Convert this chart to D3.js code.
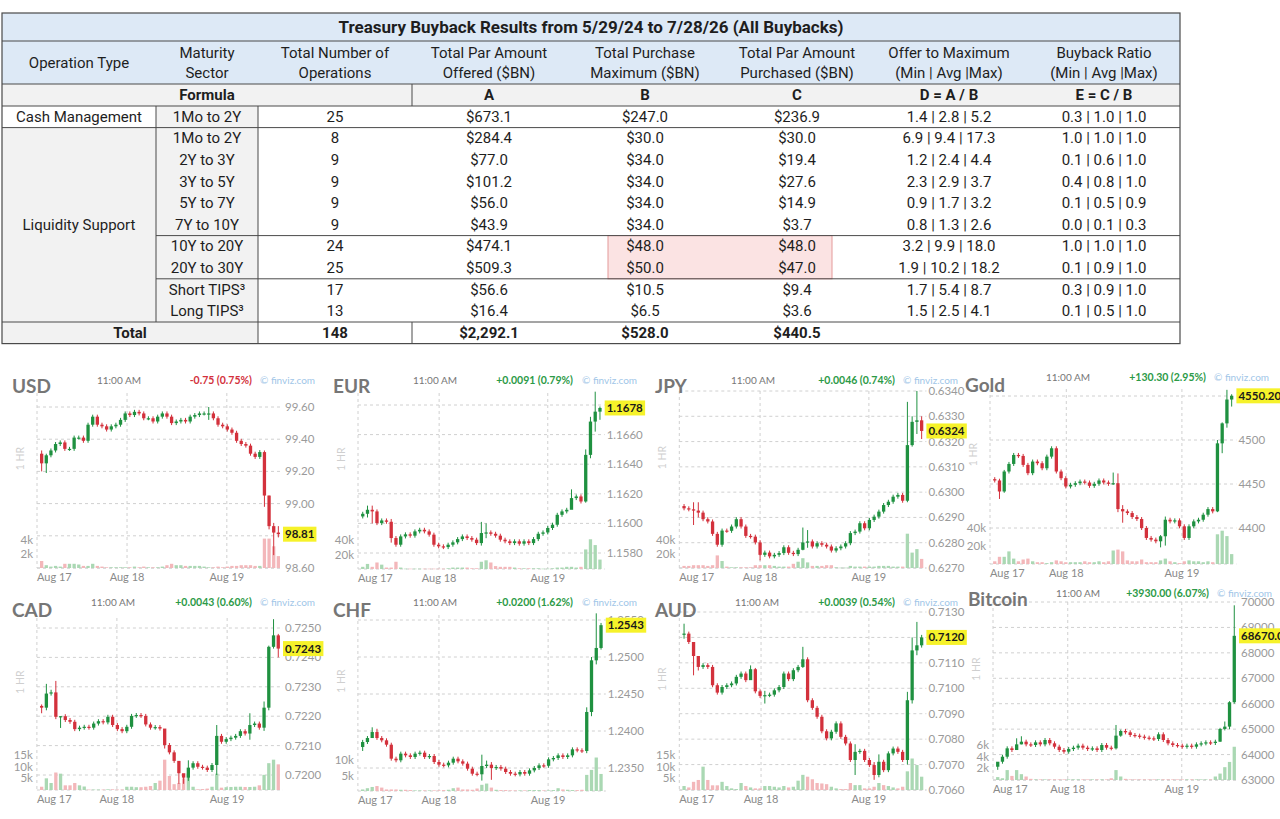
<!DOCTYPE html>
<html>
<head>
<meta charset="utf-8">
<script src="https://cdn.jsdelivr.net/npm/d3@7"></script>
<style>
  body { margin: 0; background: #fff; }
  svg { display: block; }
</style>
</head>
<body>
<script>
// ---------- table data ----------
var tableTitle = "Treasury Buyback Results from 5/29/24 to 7/28/26 (All Buybacks)";
var headers = [["Operation Type"], ["Maturity", "Sector"], ["Total Number of", "Operations"],
  ["Total Par Amount", "Offered ($BN)"], ["Total Purchase", "Maximum ($BN)"],
  ["Total Par Amount", "Purchased ($BN)"], ["Offer to Maximum", "(Min | Avg |Max)"],
  ["Buyback Ratio", "(Min | Avg |Max)"]];
var formulaLabels = ["A", "B", "C", "D = A / B", "E = C / B"];
var opTypes = ["Cash Management", "Liquidity Support"];
var sectors = ["1Mo to 2Y", "1Mo to 2Y", "2Y to 3Y", "3Y to 5Y", "5Y to 7Y", "7Y to 10Y",
  "10Y to 20Y", "20Y to 30Y", "Short TIPS\u00b3", "Long TIPS\u00b3"];
var numOps = [25, 8, 9, 9, 9, 9, 24, 25, 17, 13];
var parOffered = [673.1, 284.4, 77.0, 101.2, 56.0, 43.9, 474.1, 509.3, 56.6, 16.4];
var purchaseMax = [247.0, 30.0, 34.0, 34.0, 34.0, 34.0, 48.0, 50.0, 10.5, 6.5];
var parPurchased = [236.9, 30.0, 19.4, 27.6, 14.9, 3.7, 48.0, 47.0, 9.4, 3.6];
var offerToMax = ["1.4 | 2.8 | 5.2", "6.9 | 9.4 | 17.3", "1.2 | 2.4 | 4.4", "2.3 | 2.9 | 3.7",
  "0.9 | 1.7 | 3.2", "0.8 | 1.3 | 2.6", "3.2 | 9.9 | 18.0", "1.9 | 10.2 | 18.2",
  "1.7 | 5.4 | 8.7", "1.5 | 2.5 | 4.1"];
var buybackRatio = ["0.3 | 1.0 | 1.0", "1.0 | 1.0 | 1.0", "0.1 | 0.6 | 1.0", "0.4 | 0.8 | 1.0",
  "0.1 | 0.5 | 0.9", "0.0 | 0.1 | 0.3", "1.0 | 1.0 | 1.0", "0.1 | 0.9 | 1.0",
  "0.3 | 0.9 | 1.0", "0.1 | 0.5 | 1.0"];
var totalOps = 148, totalOffered = 2292.1, totalMax = 528.0, totalPurchased = 440.5;

// ---------- chart data (px[0] = first open, then hourly closes; vol in k) ----------
var usdPx = [99.31, 99.25,99.30,99.33,99.37,99.38,99.34,99.34,99.41,99.41,99.39,99.49,99.54,99.49,99.48,99.46,99.48,99.49,99.52,99.56,99.55,99.57,99.56,99.53,99.53,99.51,99.54,99.56,99.54,99.50,99.51,99.52,99.51,99.54,99.55,99.56,99.56,99.56,99.53,99.49,99.48,99.46,99.44,99.39,99.37,99.36,99.31,99.29,99.32,99.05,98.86,98.82,98.81];
var usdVol = [1.0,0.4,0.2,0.3,0.2,0.6,0.6,0.6,0.5,0.3,0.3,0.6,0.3,0.2,0.1,0.1,0.1,0.1,0.1,0.1,0.2,0.1,0.2,0.1,0.1,0.1,0.2,0.4,0.6,0.4,0.4,0.3,0.3,0.3,0.3,0.2,0.1,0.1,0.2,0.1,0.2,0.3,0.3,0.4,0.4,0.4,0.3,0.3,4.2,4.2,3.1,1.7];
var usdWicks = [[0,99.33,99.20],[1,99.31,99.19],[36,99.60,99.52],[48,99.33,98.98],[49,99.05,98.84],[50,98.88,98.68],[51,98.86,98.79]];

var eurPx = [1.16047, 1.16065,1.16092,1.16081,1.16002,1.16020,1.16011,1.15901,1.15856,1.15912,1.15926,1.15917,1.15946,1.15957,1.15946,1.15924,1.15856,1.15845,1.15840,1.15856,1.15872,1.15894,1.15912,1.15901,1.15890,1.15867,1.15935,1.15939,1.15930,1.15917,1.15890,1.15879,1.15867,1.15879,1.15863,1.15879,1.15867,1.15894,1.15930,1.15939,1.15969,1.15991,1.16058,1.16081,1.16092,1.16171,1.16182,1.16148,1.16463,1.16688,1.16755,1.16780];
var eurVol = [3,7,3,9,6,2,2,10,2,0.5,0.5,0.5,0.5,0.5,0.5,0.5,0.5,0.5,1,2,2,2,2,1,1,10,12,9,4,3,3,3,2,1,1,1,1,1,0.5,0.5,1,2,2,3,3,2,3,27,41,33,13];
var eurWicks = [[1,1.1612,1.1604],[2,1.1612,1.1600],[6,1.1603,1.1587],[25,1.1601,1.1585],[26,1.1600,1.1590],[44,1.1623,1.1615],[47,1.1650,1.1614],[48,1.1672,1.1644],[49,1.1689,1.1662],[50,1.1679,1.1670]];

var jpyPx = [0.62945, 0.62936,0.62932,0.62927,0.62919,0.62893,0.62884,0.62835,0.62792,0.62848,0.62847,0.62864,0.62893,0.62864,0.62827,0.62824,0.62801,0.62752,0.62761,0.62746,0.62752,0.62759,0.62782,0.62760,0.62755,0.62772,0.62801,0.62805,0.62785,0.62798,0.62792,0.62785,0.62769,0.62778,0.62785,0.62798,0.62838,0.62844,0.62877,0.62857,0.62890,0.62903,0.62923,0.62949,0.62962,0.62982,0.62989,0.62966,0.63186,0.63278,0.63284,0.63242];
var jpyVol = [3,3,4,4,4,3,4,18,10,2,1,1,1,1,1,4,4,4,4,3,2,2,2,6,9,14,8,3,3,3,4,4,1,0.5,0.5,3,2,2,2,2,2,3,3,3,2,2,2,49,22,27,13];
var jpyWicks = [[2,0.6296,0.6287],[3,0.6296,0.6290],[16,0.6281,0.6273],[25,0.6286,0.6277],[26,0.6285,0.6278],[47,0.63357,0.6296],[48,0.6330,0.6318],[49,0.6340,0.6323],[50,0.6330,0.6321]];

var goldPx = [4455.5, 4454.0,4441.5,4464.2,4472.8,4483.0,4481.9,4471.7,4462.3,4475.5,4473.6,4467.9,4481.1,4490.6,4464.2,4456.6,4447.2,4449.1,4450.9,4452.8,4451.7,4447.9,4450.2,4454.0,4451.7,4450.2,4450.9,4421.5,4418.9,4417.0,4412.5,4410.2,4400.0,4388.7,4386.8,4384.9,4390.6,4409.4,4407.5,4408.7,4401.9,4388.7,4401.9,4407.5,4409.4,4415.1,4421.5,4418.9,4496.2,4518.9,4546.0,4550.2];
var goldVol = [3,8,8,14,6,3,5,6,3,2,2,1,2,4,3,2,2,2,2,3,2,2,3,2,3,15,16,14,4,3,3,5,2,2,2,4,6,3,2,1,3,4,3,3,2,3,2,33,37,31,11];
var goldWicks = [[1,4456,4433],[2,4466,4440],[25,4463,4449],[26,4462,4418],[27,4426,4406],[35,4392,4378],[36,4413,4380],[47,4500,4418],[48,4520,4485],[49,4557,4514],[50,4552,4538]];

var cadPx = [0.72235, 0.72229,0.72277,0.72281,0.72198,0.72200,0.72187,0.72181,0.72156,0.72161,0.72164,0.72161,0.72175,0.72183,0.72179,0.72198,0.72170,0.72156,0.72149,0.72164,0.72201,0.72204,0.72201,0.72172,0.72161,0.72163,0.72158,0.72102,0.72077,0.72048,0.72006,0.71991,0.72025,0.72040,0.72028,0.72025,0.72017,0.72034,0.72133,0.72113,0.72122,0.72127,0.72133,0.72149,0.72141,0.72170,0.72175,0.72161,0.72229,0.72436,0.72475,0.72430];
var cadVol = [1.4,5,3,7.5,7,2,2,3,2,1.5,0.2,0.2,0.2,0.2,0.3,0.3,0.2,0.2,1.4,1.4,1.2,1.2,1.4,1.7,3,4,13,6,2.5,3,5,7,1.4,0.3,0.4,0.6,1.4,7,1,1.2,1.3,1.4,1.4,1.3,1.3,1.4,2,6.5,11.5,13,11];
var cadWicks = [[0,0.7224,0.7221],[1,0.7231,0.7222],[2,0.7229,0.7227],[3,0.7232,0.7219],[4,0.7220,0.7216],[26,0.7215,0.7209],[29,0.7203,0.7197],[30,0.7200,0.7197],[31,0.7205,0.7198],[37,0.7217,0.7200],[44,0.7221,0.7212],[47,0.7225,0.7215],[48,0.7244,0.7222],[49,0.7253,0.7243],[50,0.7248,0.7240]];

var chfPx = [1.23784, 1.23851,1.23905,1.23986,1.23905,1.23874,1.23815,1.23626,1.23604,1.23694,1.23671,1.23649,1.23694,1.23707,1.23649,1.23662,1.23581,1.23545,1.23536,1.23572,1.23626,1.23590,1.23559,1.23491,1.23423,1.23415,1.23527,1.23545,1.23500,1.23514,1.23491,1.23446,1.23423,1.23414,1.23446,1.23423,1.23468,1.23500,1.23536,1.23530,1.23617,1.23635,1.23671,1.23649,1.23671,1.23752,1.23739,1.23730,1.24257,1.24955,1.25122,1.25430];
var chfVol = [0.5,0.9,1.3,1.6,1.1,0.5,0.5,0.5,0.4,0.4,0.3,0.2,0.2,0.2,0.2,0.2,0.2,0.3,0.4,0.9,1.1,0.5,0.5,0.4,0.8,2,2.4,1.1,0.4,0.3,0.3,0.2,0.2,0.2,0.2,0.3,0.3,0.3,0.2,0.2,0.3,0.9,0.5,0.4,0.3,0.3,0.4,5.2,6.8,10.8,5.5];
var chfWicks = [[0,1.2388,1.2373],[2,1.2405,1.2397],[3,1.2403,1.2388],[25,1.2368,1.2333],[26,1.2360,1.2350],[27,1.2358,1.2334],[47,1.2432,1.2370],[48,1.2500,1.2420],[49,1.2559,1.2490],[50,1.2546,1.2510]];

var audPx = [0.71211, 0.71215,0.71182,0.71127,0.71084,0.71091,0.71084,0.71012,0.70983,0.71005,0.71012,0.71019,0.71045,0.71058,0.71032,0.71075,0.70988,0.70970,0.70973,0.70975,0.70992,0.71005,0.71058,0.71036,0.71071,0.71084,0.71114,0.70953,0.70923,0.70888,0.70831,0.70803,0.70829,0.70862,0.70809,0.70783,0.70718,0.70750,0.70754,0.70718,0.70698,0.70659,0.70711,0.70678,0.70744,0.70763,0.70750,0.70718,0.70953,0.71149,0.71169,0.71200];
var audVol = [1.7,1.1,3.5,4.3,10,4.3,2,2,3.5,1.7,0.7,0.4,3,1.7,1.1,0.7,0.7,1.7,1.7,1.4,1.1,1.7,1.1,1.4,4,6.5,5.7,4.6,3,2.8,2.5,1.4,0.7,0.4,0.4,3,2.1,2.1,0.7,0.7,1.4,3,2.1,1.7,1.1,0.7,1.4,8,13.5,10.7,5.7];
var audWicks = [[0,0.71254,0.71195],[2,0.71170,0.71051],[3,0.71110,0.71070],[14,0.71090,0.71060],[15,0.71080,0.70980],[17,0.70990,0.70940],[25,0.71163,0.71080],[36,0.70780,0.70659],[40,0.70710,0.70640],[41,0.70740,0.70650],[47,0.70986,0.70700],[48,0.71200,0.70940],[49,0.71261,0.71130],[50,0.71210,0.71160]];

var btcPx = [63522, 63719,63916,64245,64179,64402,64507,64402,64376,64481,64402,64573,64442,64310,64179,64113,64218,64271,64350,64271,64218,64245,64179,64376,64271,64245,64744,64928,64875,64770,64744,64705,64665,64639,64613,64797,64573,64442,64376,64350,64310,64350,64310,64402,64442,64481,64455,64507,65007,65099,66058,68670];
var btcVol = [0.5,0.3,1.7,0.7,1.7,1,0.6,0.2,0.1,0.1,0.1,0.1,0.1,0.1,0.1,0.1,0.1,0.1,0.1,0.1,0.1,0.1,0.1,0.1,0.3,1.7,0.6,0.2,0.1,0.1,0.1,0.1,0.1,0.1,0.1,0.1,0.1,0.1,0.1,0.1,0.1,0.1,0.1,0.1,0.1,0.1,0.6,1.1,2.2,3.1,5.7];
var btcWicks = [[0,63650,63400],[4,64640,64300],[5,64720,64400],[25,65164,64200],[26,64980,64700],[47,65050,64500],[48,65300,64950],[49,66100,65000],[50,69870,66000]];

// ticks, labels
var names = ["USD", "EUR", "JPY", "Gold", "CAD", "CHF", "AUD", "Bitcoin"];
var changes = ["-0.75 (0.75%)", "+0.0091 (0.79%)", "+0.0046 (0.74%)", "+130.30 (2.95%)",
  "+0.0043 (0.60%)", "+0.0200 (1.62%)", "+0.0039 (0.54%)", "+3930.00 (6.07%)"];
var lastLabels = ["98.81", "1.1678", "0.6324", "4550.20", "0.7243", "1.2543", "0.7120", "68670.00"];
var priceTicks = [
  [98.60, 98.80, 99.00, 99.20, 99.40, 99.60],
  [1.1580, 1.1600, 1.1620, 1.1640, 1.1660, 1.1680],
  [0.6270, 0.6280, 0.6290, 0.6300, 0.6310, 0.6320, 0.6330, 0.6340],
  [4400, 4450, 4500, 4550],
  [0.7200, 0.7210, 0.7220, 0.7230, 0.7240, 0.7250],
  [1.2350, 1.2400, 1.2450, 1.2500, 1.2550],
  [0.7060, 0.7070, 0.7080, 0.7090, 0.7100, 0.7110, 0.7120, 0.7130],
  [63000, 64000, 65000, 66000, 67000, 68000, 69000, 70000]];
var tickDecimals = [2, 4, 4, 0, 4, 4, 4, 0];
var volTicks = [[2, 4], [20, 40], [20, 40], [20, 40], [5, 10, 15], [5, 10], [5, 10, 15], [2, 4, 6]];
var dayLabels = ["Aug 17", "Aug 18", "Aug 19"];
// candle index where the Aug 18 / Aug 19 gridlines sit
var dayIdx = [[18.4, 39.9], [16.1, 39.0], [16.0, 38.9], [15.1, 39.5],
  [15.9, 39.2], [16.0, 38.9], [16.2, 38.9], [14.8, 38.9]];

// ---------- layout ----------
var W = 1280, H = 819;
var svg = d3.select("body").append("svg").attr("width", W).attr("height", H);

var TFONT = "Roboto, 'Liberation Sans', sans-serif";
var CFONT = "Lato, 'Open Sans', sans-serif";

// ================= TABLE =================
var colEdges = [2, 156, 258, 412, 566, 724, 870, 1028, 1180];
var colMid = function(i) { return (colEdges[i] + colEdges[i + 1]) / 2; };
var rowY = d3.scaleLinear().domain([0, 11]).range([106, 343.6]); // data rows 0..9, total row 10
var tbl = svg.append("g").attr("font-family", TFONT).attr("font-size", 15).attr("fill", "#1e1e1e");

// backgrounds
tbl.append("rect").attr("x", 2).attr("y", 13).attr("width", 1178).attr("height", 71).attr("fill", "#dde9f6");
tbl.append("rect").attr("x", 2).attr("y", 84).attr("width", 1178).attr("height", 22).attr("fill", "#f2f2f2");
tbl.append("rect").attr("x", 2).attr("y", rowY(1)).attr("width", 154).attr("height", rowY(10) - rowY(1)).attr("fill", "#f2f2f2");
tbl.append("rect").attr("x", 156).attr("y", rowY(0)).attr("width", 102).attr("height", rowY(10) - rowY(0)).attr("fill", "#f2f2f2");
tbl.append("rect").attr("x", 2).attr("y", rowY(10)).attr("width", 256).attr("height", rowY(11) - rowY(10)).attr("fill", "#f2f2f2");
// red highlight
tbl.append("rect").attr("x", 608).attr("y", rowY(6)).attr("width", 224).attr("height", rowY(8) - rowY(6))
  .attr("fill", "#fbe3e3").attr("stroke", "#e49a9a").attr("stroke-width", 1);

// lines
var lineCol = "#4a4a4a";
function hline(x1, x2, yy) {
  tbl.append("line").attr("x1", x1).attr("x2", x2).attr("y1", yy).attr("y2", yy)
    .attr("stroke", lineCol).attr("stroke-width", 1);
}
function vline(xx, y1, y2) {
  tbl.append("line").attr("x1", xx).attr("x2", xx).attr("y1", y1).attr("y2", y2)
    .attr("stroke", lineCol).attr("stroke-width", 1);
}
[41, 84, rowY(0), rowY(1), rowY(10)].forEach(function(yy) { hline(2, 1180, yy); });
hline(156, 1180, rowY(6));
hline(156, 1180, rowY(8));
vline(412, 84, rowY(0));
vline(412, rowY(10), rowY(11));
vline(156, rowY(0), rowY(10));
vline(258, rowY(0), rowY(11));
tbl.append("rect").attr("x", 2).attr("y", 13).attr("width", 1178).attr("height", rowY(11) - 13)
  .attr("fill", "none").attr("stroke", lineCol).attr("stroke-width", 1.2);

// title
tbl.append("text").attr("x", 591).attr("y", 33).attr("text-anchor", "middle")
  .attr("font-weight", "bold").attr("font-size", 17).text(tableTitle);

// headers
headers.forEach(function(h, i) {
  var t = tbl.append("text").attr("x", colMid(i)).attr("text-anchor", "middle");
  if (h.length === 1) {
    t.attr("y", 68).text(h[0]);
  } else {
    t.append("tspan").attr("x", colMid(i)).attr("y", 58).text(h[0]);
    t.append("tspan").attr("x", colMid(i)).attr("y", 78).text(h[1]);
  }
});

// formula row
tbl.append("text").attr("x", 207).attr("y", 100).attr("text-anchor", "middle")
  .attr("font-weight", "bold").text("Formula");
formulaLabels.forEach(function(f, i) {
  tbl.append("text").attr("x", colMid(i + 3)).attr("y", 100).attr("text-anchor", "middle")
    .attr("font-weight", "bold").text(f);
});

// data rows
var money = function(v) { return "$" + d3.format(",.1f")(v); };
var rowTxt = function(k) { return (rowY(k) + rowY(k + 1)) / 2 + 5; };
tbl.append("text").attr("x", colMid(0)).attr("y", rowTxt(0)).attr("text-anchor", "middle").text(opTypes[0]);
tbl.append("text").attr("x", colMid(0)).attr("y", (rowY(1) + rowY(10)) / 2 + 5).attr("text-anchor", "middle").text(opTypes[1]);
sectors.forEach(function(s, k) {
  var cells = [s, numOps[k], money(parOffered[k]), money(purchaseMax[k]), money(parPurchased[k]),
    offerToMax[k], buybackRatio[k]];
  cells.forEach(function(cv, j) {
    tbl.append("text").attr("x", colMid(j + 1)).attr("y", rowTxt(k)).attr("text-anchor", "middle").text(cv);
  });
});
// total row
var totCells = [totalOps, money(totalOffered), money(totalMax), money(totalPurchased)];
tbl.append("text").attr("x", (colEdges[0] + colEdges[2]) / 2).attr("y", rowTxt(10)).attr("text-anchor", "middle")
  .attr("font-weight", "bold").text("Total");
totCells.forEach(function(cv, j) {
  tbl.append("text").attr("x", colMid(j + 2)).attr("y", rowTxt(10)).attr("text-anchor", "middle")
    .attr("font-weight", "bold").text(cv);
});

// ================= CHARTS =================
var series = [
  { px: usdPx, vol: usdVol, wicks: usdWicks },
  { px: eurPx, vol: eurVol, wicks: eurWicks },
  { px: jpyPx, vol: jpyVol, wicks: jpyWicks },
  { px: goldPx, vol: goldVol, wicks: goldWicks },
  { px: cadPx, vol: cadVol, wicks: cadWicks },
  { px: chfPx, vol: chfVol, wicks: chfWicks },
  { px: audPx, vol: audVol, wicks: audWicks },
  { px: btcPx, vol: btcVol, wicks: btcWicks }
];

// panel geometry (pixels)
var panels = [
  { left: 37,    right: 283,    top: 393, base: 568, yRng: [568, 407], vRng: [568, 540], tx: 12,  ty: 393, iy: 384, timeX: 119,  chgX: 252,  finX: 260 },
  { left: 358,   right: 604.7,  top: 393, base: 569, yRng: [553, 405], vRng: [569, 540], tx: 333, ty: 393, iy: 384, timeX: 435,  chgX: 573,  finX: 582 },
  { left: 679.3, right: 926.4,  top: 391, base: 568, yRng: [568, 391], vRng: [568, 540], tx: 655, ty: 393, iy: 384, timeX: 753,  chgX: 895,  finX: 903 },
  { left: 990,   right: 1236.4, top: 389, base: 564, yRng: [528, 396], vRng: [564, 528], tx: 965, ty: 392, iy: 381, timeX: 1068, chgX: 1206, finX: 1214 },
  { left: 36.9,  right: 283,    top: 618, base: 790, yRng: [775, 628], vRng: [790, 755], tx: 12,  ty: 617, iy: 606, timeX: 113,  chgX: 252,  finX: 260 },
  { left: 357.9, right: 605.8,  top: 615, base: 791, yRng: [768, 620], vRng: [791, 760], tx: 333, ty: 617, iy: 606, timeX: 435,  chgX: 573,  finX: 582 },
  { left: 679.3, right: 926.4,  top: 612, base: 790, yRng: [790, 612], vRng: [790, 755], tx: 655, ty: 617, iy: 606, timeX: 757,  chgX: 895,  finX: 903 },
  { left: 993,   right: 1239,   top: 602, base: 780, yRng: [780, 602], vRng: [780, 745], tx: 968, ty: 606, iy: 597, timeX: 1078, chgX: 1209, finX: 1217 }
];

var UP = "#1f9140", DOWN = "#d3313c", VUP = "#aad8b3", VDOWN = "#f3b7ba", GRID = "#d0d0d0";

function drawPanel(k) {
  var s = series[k], p = panels[k];
  var n = s.px.length - 1;
  var ticks = priceTicks[k];
  var g = svg.append("g").attr("font-family", CFONT);

  var x = d3.scaleLinear().domain([-1, n]).range([p.left, p.right]);
  var y = d3.scaleLinear().domain([ticks[0], ticks[ticks.length - 1]]).range(p.yRng);
  var vt = volTicks[k];
  var v = d3.scaleLinear().domain([0, vt[vt.length - 1]]).range(p.vRng);
  var last = s.px[n];

  // gridlines
  g.selectAll(".hg").data(ticks).join("line")
    .attr("x1", p.left).attr("x2", p.right)
    .attr("y1", function(d) { return y(d); }).attr("y2", function(d) { return y(d); })
    .attr("stroke", GRID).attr("stroke-dasharray", "3,3");
  g.append("line").attr("x1", p.left).attr("x2", p.right).attr("y1", p.base).attr("y2", p.base)
    .attr("stroke", GRID).attr("stroke-dasharray", "3,3");
  var vlines = [-1].concat(dayIdx[k]);
  g.selectAll(".vg").data(vlines).join("line")
    .attr("x1", function(d) { return x(d); }).attr("x2", function(d) { return x(d); })
    .attr("y1", p.top).attr("y2", p.base)
    .attr("stroke", GRID).attr("stroke-dasharray", "3,3");

  // day labels
  g.selectAll(".dl").data(vlines).join("text")
    .attr("x", function(d) { return x(d); })
    .attr("y", p.base + 13)
    .attr("text-anchor", function(d, i) { return i === 0 ? "start" : "middle"; })
    .attr("font-size", 11).attr("fill", "#8a8a8a")
    .text(function(d, i) { return dayLabels[i]; });

  // candles
  var wm = new Map(s.wicks.map(function(w) { return [w[0], w]; }));
  var data = d3.range(n).map(function(i) {
    var o = s.px[i], c = s.px[i + 1], w = wm.get(i);
    return { i: i, o: o, c: c, up: c >= o, hi: w ? w[1] : null, lo: w ? w[2] : null, vol: s.vol[i] || 0 };
  });
  var bw = 3.3;

  // volume
  g.selectAll(".vb").data(data).join("rect")
    .attr("x", function(d) { return x(d.i) - bw / 2; })
    .attr("width", bw)
    .attr("y", function(d) { return v(d.vol); })
    .attr("height", function(d) { return Math.max(0.6, p.base - v(d.vol)); })
    .attr("fill", function(d) { return d.up ? VUP : VDOWN; });

  // wicks
  g.selectAll(".wk").data(data).join("line")
    .attr("x1", function(d) { return x(d.i); }).attr("x2", function(d) { return x(d.i); })
    .attr("y1", function(d) { return d.hi !== null ? y(d.hi) : y(Math.max(d.o, d.c)) - 2; })
    .attr("y2", function(d) { return d.lo !== null ? y(d.lo) : y(Math.min(d.o, d.c)) + 2; })
    .attr("stroke", function(d) { return d.up ? UP : DOWN; }).attr("stroke-width", 1);

  // bodies
  g.selectAll(".bd").data(data).join("rect")
    .attr("x", function(d) { return x(d.i) - bw / 2; })
    .attr("width", bw)
    .attr("y", function(d) { return y(Math.max(d.o, d.c)); })
    .attr("height", function(d) { return Math.max(1.2, Math.abs(y(d.o) - y(d.c))); })
    .attr("fill", function(d) { return d.up ? UP : DOWN; });

  // price labels (those fully hidden behind the last-price box are skipped)
  var fmt = d3.format("." + tickDecimals[k] + "f");
  g.selectAll(".pl").data(ticks.filter(function(d) { return Math.abs(y(d) - y(last)) > 4; })).join("text")
    .attr("x", p.right + 2).attr("y", function(d) { return y(d); }).attr("dy", "0.35em")
    .attr("font-size", 11.5).attr("fill", "#9a9a9a")
    .text(function(d) { return fmt(d); });

  // last price highlight
  var lt = g.append("text").attr("x", p.right + 2).attr("y", y(last)).attr("dy", "0.35em")
    .attr("font-size", 11.5).attr("font-weight", "bold").attr("fill", "#1a1a1a").text(lastLabels[k]);
  var bb = lt.node().getBBox();
  g.insert("rect", function() { return lt.node(); })
    .attr("x", bb.x - 2).attr("y", y(last) - 7.5).attr("width", bb.width + 4).attr("height", 15)
    .attr("fill", "#f6f22a");

  // volume labels
  g.selectAll(".vl").data(vt).join("text")
    .attr("x", p.left - 4).attr("y", function(d) { return v(d); }).attr("dy", "0.35em")
    .attr("text-anchor", "end").attr("font-size", 11.5).attr("fill", "#9a9a9a")
    .text(function(d) { return d + "k"; });

  // "1 HR"
  g.append("text")
    .attr("transform", "translate(" + (p.left - 13) + "," + ((p.top + p.base) / 2 - 22) + ") rotate(-90)")
    .attr("text-anchor", "middle").attr("font-size", 10.5).attr("fill", "#cfcfcf").text("1 HR");

  // header
  g.append("text").attr("x", p.tx).attr("y", p.ty).attr("font-size", 19).attr("font-weight", "bold")
    .attr("fill", "#767676").text(names[k]);
  g.append("text").attr("x", p.timeX).attr("y", p.iy).attr("text-anchor", "middle")
    .attr("font-size", 10).attr("fill", "#777").text("11:00 AM");
  g.append("text").attr("x", p.chgX).attr("y", p.iy).attr("text-anchor", "end")
    .attr("font-size", 10.5).attr("font-weight", "bold")
    .attr("fill", changes[k].charAt(0) === "-" ? "#d3313c" : "#2c9a47").text(changes[k]);
  g.append("text").attr("x", p.finX).attr("y", p.iy)
    .attr("font-size", 10).attr("fill", "#9fc6e8").text("\u00a9 finviz.com");
}

d3.range(8).forEach(drawPanel);
</script>
</body>
</html>
